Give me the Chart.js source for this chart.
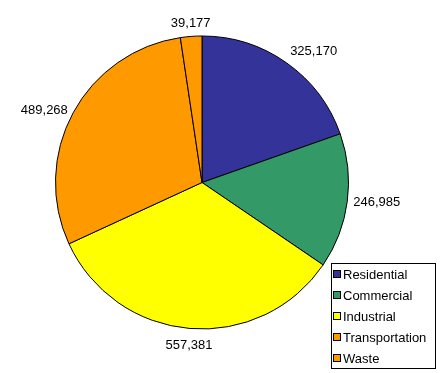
<!DOCTYPE html>
<html>
<head>
<meta charset="utf-8">
<script src="https://cdn.jsdelivr.net/npm/chart.js@4"></script>
<style>
  html, body { margin: 0; padding: 0; background: #fff; }
  #pie { display: block; }
</style>
</head>
<body>
<canvas id="pie" width="442" height="373"></canvas>
<script>
const categories = ['Residential', 'Commercial', 'Industrial', 'Transportation', 'Waste'];
const values = [325170, 246985, 557381, 489268, 39177];
const sliceColors = ['#333399', '#339966', '#ffff00', '#ff9900', '#ff9900'];

const FONT = '13px "Liberation Sans", Arial, sans-serif';

function fmt(v) {
  return v.toLocaleString('en-US');
}

/* === Value labels outside each slice === */
const outsideLabelsPlugin = {
  id: 'outsideLabels',
  afterDatasetsDraw(chart) {
    const ctx = chart.ctx;
    const meta = chart.getDatasetMeta(0);
    ctx.save();
    ctx.font = FONT;
    ctx.fillStyle = '#000';
    meta.data.forEach((arc, i) => {
      const mid = (arc.startAngle + arc.endAngle) / 2;
      const c = Math.cos(mid), s = Math.sin(mid);
      // labels under the pie sit a little further out
      const r = arc.outerRadius + (s > 0.5 ? 10 : 6);
      const x = arc.x + r * c;
      const y = arc.y + r * s;
      ctx.textAlign = c > 0.5 ? 'left' : (c < -0.5 ? 'right' : 'center');
      ctx.textBaseline = s > 0.5 ? 'top' : (s < -0.5 ? 'bottom' : 'middle');
      ctx.fillText(fmt(values[i]), x, y);
    });
    ctx.restore();
  }
};

/* === Boxed legend, bottom right === */
const boxLegendPlugin = {
  id: 'boxLegend',
  afterDraw(chart) {
    const ctx = chart.ctx;
    const left = 331, top = 263, w = 104, h = 105;
    ctx.save();
    ctx.fillStyle = '#fff';
    ctx.fillRect(left, top, w, h);
    ctx.strokeStyle = '#000';
    ctx.lineWidth = 1;
    ctx.strokeRect(left + 0.5, top + 0.5, w, h);
    ctx.font = FONT;
    ctx.textAlign = 'left';
    ctx.textBaseline = 'middle';
    categories.forEach((name, i) => {
      const cy = top + 11 + i * 21;
      ctx.fillStyle = sliceColors[i];
      ctx.fillRect(334, cy - 3, 7, 7);
      ctx.strokeStyle = '#000';
      ctx.strokeRect(333.5, cy - 3.5, 7, 7);
      ctx.fillStyle = '#000';
      ctx.fillText(name, 343, cy + 1);
    });
    ctx.restore();
  }
};

new Chart(document.getElementById('pie').getContext('2d'), {
  type: 'pie',
  data: {
    labels: categories,
    datasets: [{
      data: values,
      backgroundColor: sliceColors,
      borderColor: '#000',
      borderWidth: 1
    }]
  },
  options: {
    responsive: false,
    animation: false,
    layout: { padding: { left: 55, right: 93, top: 35, bottom: 43 } },
    plugins: {
      legend: { display: false },
      tooltip: { enabled: false }
    }
  },
  plugins: [outsideLabelsPlugin, boxLegendPlugin]
});
</script>
</body>
</html>
